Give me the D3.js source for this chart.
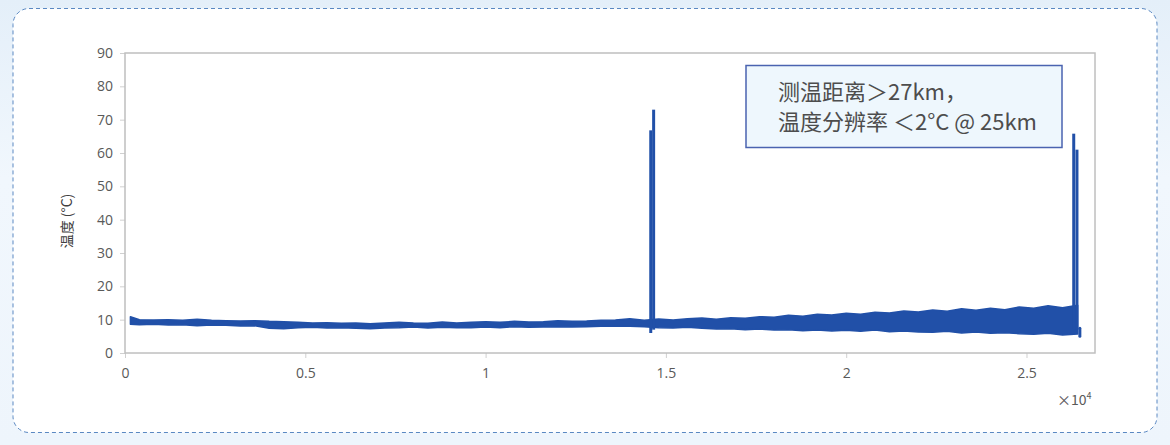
<!DOCTYPE html>
<html>
<head>
<meta charset="utf-8">
<script src="https://cdn.jsdelivr.net/npm/d3@7"></script>
<style>
  html, body { margin: 0; padding: 0; }
  body {
    width: 1170px; height: 445px; overflow: hidden;
    background: linear-gradient(180deg, #e4eff9 0%, #f1f7fd 40%, #eef5fc 100%);
    font-family: "Noto Sans", "Noto Sans CJK SC", sans-serif;
  }
</style>
</head>
<body>
<div id="plot"></div>
<script>
    // distance along fibre (m) and the envelope of the noisy trace (°C)
    const distance = [150, 400, 800, 1200, 1600, 2000, 2400, 2800, 3200, 3600,
      4000, 4400, 4800, 5200, 5600, 6000, 6400, 6800, 7200, 7600,
      8000, 8400, 8800, 9200, 9600, 10000, 10400, 10800, 11200, 11600,
      12000, 12400, 12800, 13200, 13600, 14000, 14400, 14800, 15200, 15600,
      16000, 16400, 16800, 17200, 17600, 18000, 18400, 18800, 19200, 19600,
      20000, 20400, 20800, 21200, 21600, 22000, 22400, 22800, 23200, 23600,
      24000, 24400, 24800, 25200, 25600, 26000, 26420];
    const tempHigh = [10.9, 10.0, 9.9, 10.0, 9.8, 10.1, 9.8, 9.7, 9.6, 9.7,
      9.5, 9.4, 9.2, 9.0, 9.1, 8.9, 9.0, 8.8, 9.0, 9.2,
      9.0, 8.9, 9.3, 9.0, 9.2, 9.4, 9.2, 9.5, 9.3, 9.4,
      9.7, 9.5, 9.6, 9.8, 9.9, 10.3, 9.8, 10.2, 9.9, 10.3,
      10.5, 10.1, 10.6, 10.4, 10.9, 10.7, 11.3, 11.0, 11.6, 11.4,
      11.9, 11.6, 12.2, 12.0, 12.6, 12.3, 12.9, 12.5, 13.3, 12.8,
      13.4, 13.0, 13.8, 13.4, 14.2, 13.6, 14.3];
    const tempLow = [8.6, 8.5, 8.6, 8.4, 8.5, 8.2, 8.4, 8.3, 8.1, 8.2,
      7.4, 7.3, 7.6, 7.7, 7.5, 7.6, 7.4, 7.3, 7.5, 7.6,
      7.8, 7.5, 7.7, 7.6, 7.6, 7.8, 7.6, 7.9, 7.7, 7.8,
      7.9, 7.8, 7.9, 8.0, 8.1, 8.0, 7.9, 7.6, 7.5, 7.7,
      7.4, 7.2, 7.3, 7.0, 7.2, 6.9, 7.0, 6.7, 6.9, 6.6,
      6.8, 6.5, 6.9, 6.4, 6.6, 6.3, 6.2, 6.5, 6.0, 6.3,
      5.9, 6.1, 5.8, 5.6, 5.9, 5.4, 5.7];

    // hot spots (spikes) and the last reading
    const spikeDist = [14580, 14660, 26310, 26400];
    const spikeBase = [6.0, 7.0, 7.0, 7.0];
    const spikeTop = [66.8, 73.0, 65.8, 61.0];
    const tailDist = [26480];
    const tailHigh = [7.4];
    const tailLow = [5.0];

    const xTicks = [0, 5000, 10000, 15000, 20000, 25000];
    const yTicks = [0, 10, 20, 30, 40, 50, 60, 70, 80, 90];
    const noteLines = ["测温距离＞27km，", "温度分辨率 ＜2°C @ 25km"];

    const lineColor = "#2150a8";
    const textColor = "#595959";

    const svg = d3.select("div#plot")
      .append("svg")
        .attr("width", 1170)
        .attr("height", 445);

    // card with dashed border
    svg.append("rect")
      .attr("x", 13)
      .attr("y", 8.5)
      .attr("width", 1144)
      .attr("height", 424)
      .attr("rx", 16)
      .attr("fill", "#ffffff")
      .attr("stroke", "#5a88c2")
      .attr("stroke-width", 1)
      .attr("stroke-dasharray", "4,3");

    const xScale = d3.scaleLinear()
      .domain([0, 26900])
      .range([125, 1095]);

    const yScale = d3.scaleLinear()
      .domain([0, 90])
      .range([353, 53]);

    const xAxis = d3.axisBottom(xScale)
      .tickValues(xTicks)
      .tickSize(5)
      .tickPadding(10)
      .tickFormat(d => d3.format("~g")(d / 10000));

    const yAxis = d3.axisLeft(yScale)
      .tickValues(yTicks)
      .tickSize(5)
      .tickPadding(7);

    const gx = svg.append("g")
      .attr("transform", "translate(0, 353)")
      .call(xAxis);

    const gy = svg.append("g")
      .attr("transform", "translate(125, 0)")
      .call(yAxis);

    [gx, gy].forEach(g => {
      g.select(".domain").remove();
      g.attr("font-size", null).attr("font-family", null);
      g.selectAll(".tick line").attr("stroke", "#d0d0d0");
      g.selectAll(".tick text")
        .attr("fill", textColor)
        .style("font-family", "'Open Sans', 'Noto Sans', sans-serif")
        .style("font-size", "14px");
    });

    // plot frame
    svg.append("rect")
      .attr("x", xScale(0))
      .attr("y", yScale(90))
      .attr("width", xScale(26900) - xScale(0))
      .attr("height", yScale(0) - yScale(90))
      .attr("fill", "none")
      .attr("stroke", "#bfbfbf")
      .attr("stroke-width", 1.5);

    // noisy temperature band
    const band = d3.area()
      .x((d, i) => xScale(distance[i]))
      .y0((d, i) => yScale(tempLow[i]))
      .y1((d, i) => yScale(tempHigh[i]))
      .curve(d3.curveLinear);

    svg.append("path")
      .datum(distance)
      .attr("d", band)
      .attr("fill", lineColor)
      .attr("stroke", lineColor)
      .attr("stroke-width", 1.5)
      .attr("stroke-linejoin", "round");

    svg.selectAll(".spike")
      .data(spikeDist)
      .enter()
      .append("line")
        .attr("class", "spike")
        .attr("x1", d => xScale(d))
        .attr("x2", d => xScale(d))
        .attr("y1", (d, i) => yScale(spikeBase[i]))
        .attr("y2", (d, i) => yScale(spikeTop[i]))
        .attr("stroke", lineColor)
        .attr("stroke-width", 3);

    svg.selectAll(".tail")
      .data(tailDist)
      .enter()
      .append("line")
        .attr("class", "tail")
        .attr("x1", d => xScale(d))
        .attr("x2", d => xScale(d))
        .attr("y1", (d, i) => yScale(tailLow[i]))
        .attr("y2", (d, i) => yScale(tailHigh[i]))
        .attr("stroke", lineColor)
        .attr("stroke-width", 3)
        .attr("stroke-linecap", "round");

    // y axis title
    svg.append("text")
      .attr("transform", "translate(72, 221) rotate(-90)")
      .attr("text-anchor", "middle")
      .attr("fill", "#404040")
      .style("font-family", "'Noto Sans CJK SC', sans-serif")
      .style("font-size", "14px")
      .text("温度 (°C)");

    // x axis multiplier
    const mult = svg.append("text")
      .attr("x", 1057)
      .attr("y", 405)
      .attr("fill", textColor)
      .style("font-family", "'Noto Sans CJK SC', sans-serif")
      .style("font-size", "14px");
    mult.append("tspan").text("×10");
    mult.append("tspan")
      .attr("dy", -6)
      .style("font-size", "9px")
      .text("4");

    // annotation box
    svg.append("rect")
      .attr("x", 746)
      .attr("y", 65.5)
      .attr("width", 316)
      .attr("height", 82)
      .attr("fill", "#eef7fd")
      .attr("stroke", "#4a63b0")
      .attr("stroke-width", 1.5);

    svg.selectAll(".note")
      .data(noteLines)
      .enter()
      .append("text")
        .attr("class", "note")
        .attr("x", 778)
        .attr("y", (d, i) => 100 + i * 30)
        .attr("fill", "#4d4d4d")
        .style("font-family", "'Noto Sans CJK SC', sans-serif")
        .style("font-size", "22px")
        .text(d => d);
</script>
</body>
</html>
